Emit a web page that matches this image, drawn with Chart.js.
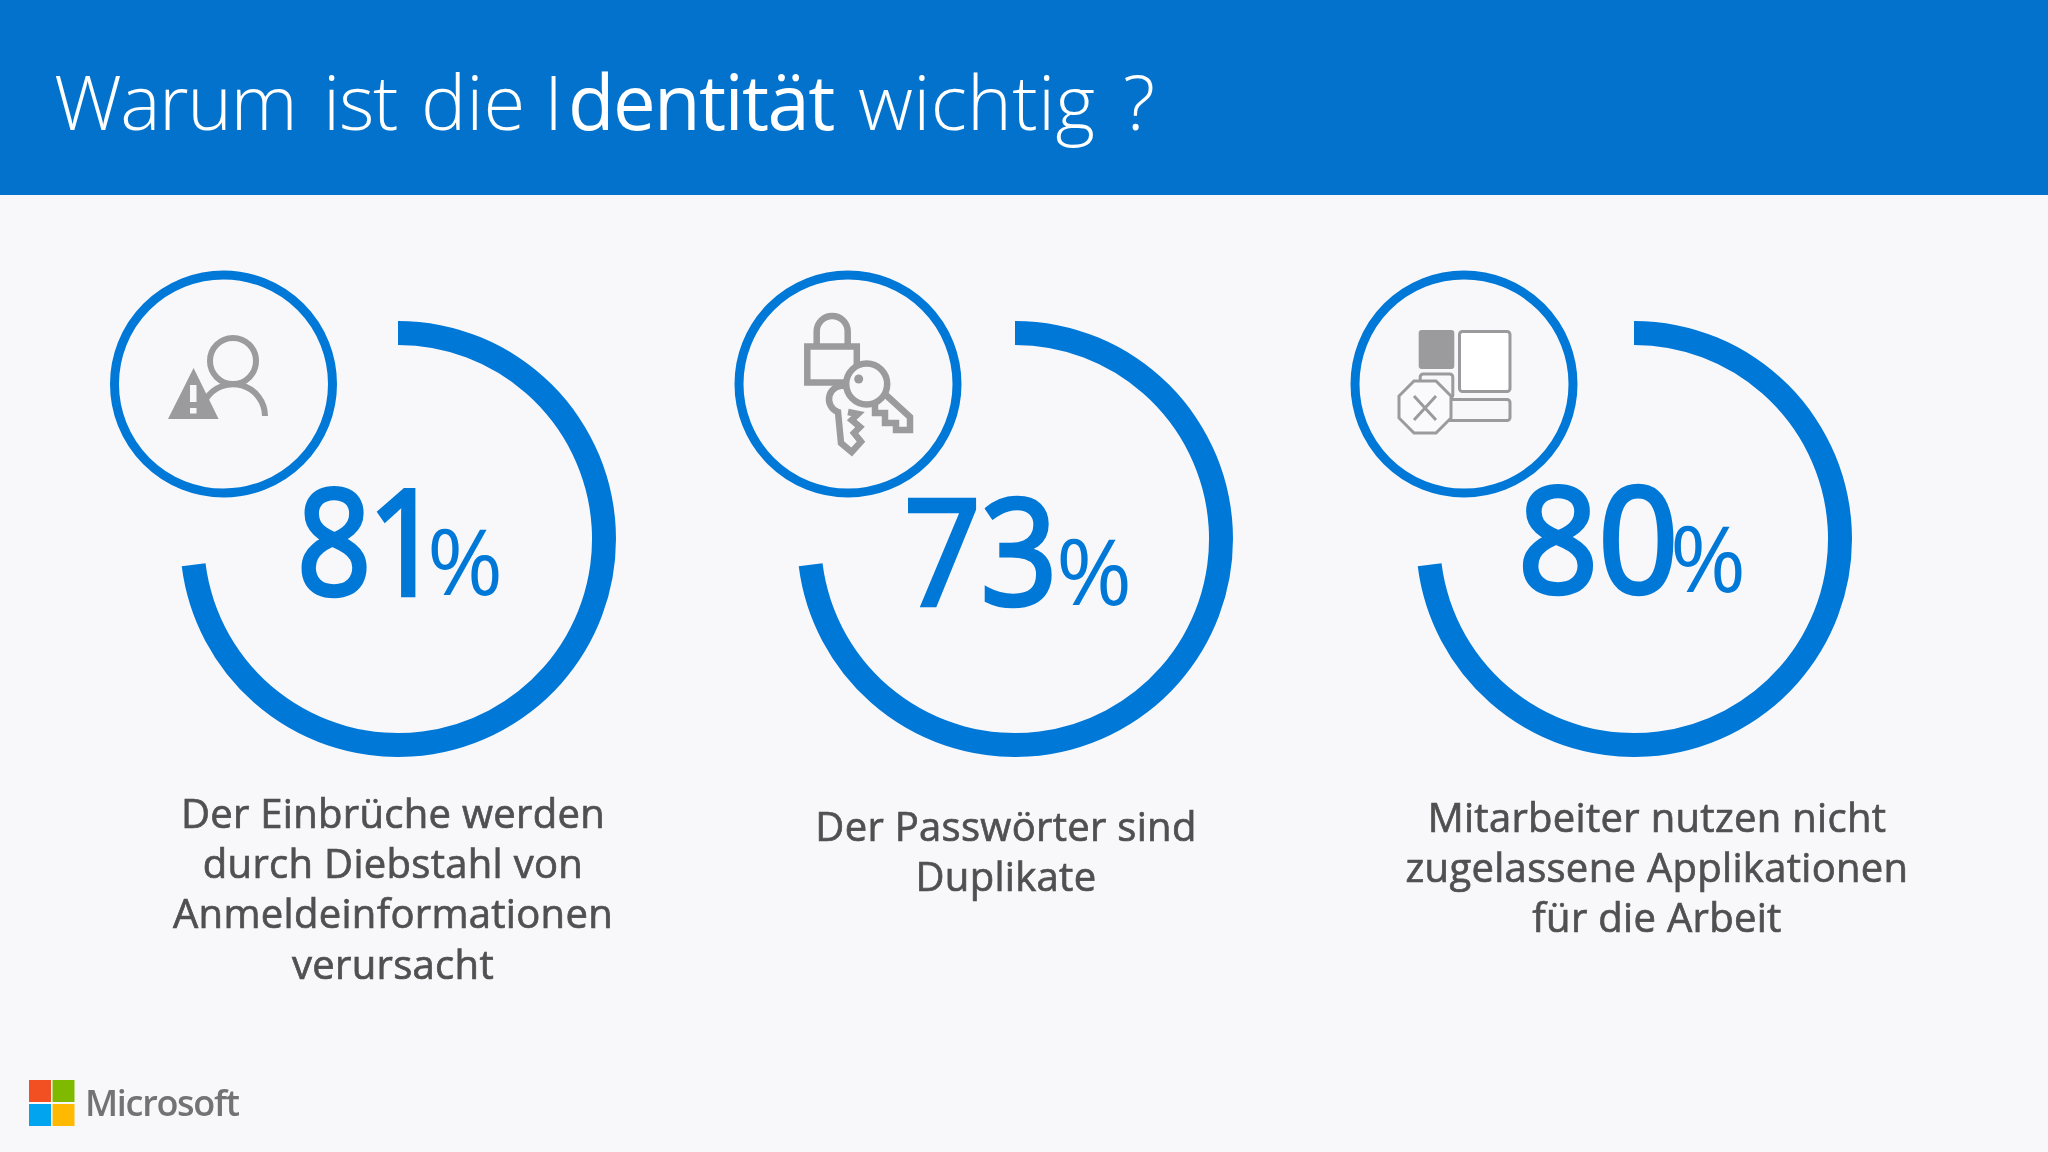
<!DOCTYPE html>
<html lang="de">
<head>
<meta charset="utf-8">
<title>Warum ist die Identität wichtig ?</title>
<script src="https://cdn.jsdelivr.net/npm/chart.js@4"></script>
<style>
html,body{margin:0;padding:0;background:#F8F8FB;width:2048px;height:1152px;overflow:hidden}
#header{position:absolute;left:0;top:0;width:2048px;height:195px;background:#0272CC}
.dial{position:absolute;width:436px;height:436px}
#overlay{position:absolute;left:0;top:0;width:2048px;height:1152px}
text{font-family:"Open Sans","Noto Sans",sans-serif}
.big{fill:#0078D7;stroke:#0078D7;stroke-width:4.5;font-size:146px;font-weight:500}
.pct{fill:#0078D7;font-size:92px;font-weight:400}
.cap{fill:#505050;stroke:#505050;stroke-width:0.7;font-size:40px;font-weight:500;text-anchor:middle;letter-spacing:0.3px}
.ico{fill:none;stroke:#9B9A9D;stroke-width:6}
.ring{fill:none;stroke:#0078D7;stroke-width:9}
</style>
</head>
<body>
<div id="header"></div>
<canvas class="dial" id="d0" style="left:180px;top:321px"></canvas>
<canvas class="dial" id="d1" style="left:797px;top:321px"></canvas>
<canvas class="dial" id="d2" style="left:1416px;top:321px"></canvas>

<svg id="overlay" viewBox="0 0 2048 1152" xmlns="http://www.w3.org/2000/svg">
  <text y="130" font-size="76" font-weight="300" fill="#fff"><tspan x="54" letter-spacing="-1.5">Warum</tspan><tspan x="323" letter-spacing="-1.3">ist</tspan><tspan x="421" letter-spacing="0">die</tspan><tspan x="544">I</tspan><tspan x="568" font-weight="500" letter-spacing="-1.6">dentität</tspan><tspan x="858" letter-spacing="0.3">wichtig</tspan><tspan x="1123">?</tspan></text>

  <circle class="ring" cx="223.5" cy="384" r="109"/>
  <circle class="ring" cx="848" cy="384" r="109"/>
  <circle class="ring" cx="1464" cy="384" r="109"/>

  <!-- icon 1 -->
  <circle class="ico" cx="233" cy="361" r="23"/>
  <path class="ico" d="M265 416 A32 32 0 0 0 206 399"/>
  <path fill="#9B9A9D" d="M193.6 368 L218.6 419 L168 419 Z"/>
  <rect x="190" y="385" width="6.5" height="17" fill="#F8F8FB"/>
  <rect x="190" y="408" width="6.5" height="5.5" fill="#F8F8FB"/>

  <!-- icon 2 -->
  <path class="ico" style="stroke-width:6.5" d="M816.7 344 V331.5 A15.5 15.5 0 0 1 847.7 331.5 V344"/>
  <rect class="ico" style="stroke-width:6.5" x="807.3" y="346.5" width="49.5" height="36"/>
  <path class="ico" style="stroke-width:6.5" d="M845 386 A13.5 13.5 0 0 0 838 412 L841 443 L851.7 452 L861 441.7 L854 433 L860 427 L851.7 420 L858 414 L848 412"/>
  <path class="ico" style="fill:#F8F8FB;stroke-width:6.5" d="M886 395 L910 417 V430 H896 V423 H885 V413 H875 V403"/>
  <circle class="ico" style="fill:#F8F8FB;stroke-width:6.5" cx="866.7" cy="384" r="20.5"/>
  <circle cx="858.7" cy="379" r="4.5" fill="#9B9A9D"/>

  <!-- icon 3 -->
  <rect x="1418.7" y="330" width="35.6" height="39" rx="3" fill="#9B9A9D"/>
  <rect x="1459.5" y="331.5" width="50.5" height="60" rx="3" fill="#FFFFFF" stroke="#9B9A9D" stroke-width="3"/>
  <rect x="1420.2" y="374" width="32.6" height="24" rx="3" fill="#F8F8FB" stroke="#9B9A9D" stroke-width="3"/>
  <rect x="1440" y="399.5" width="70" height="21" rx="3" fill="#F8F8FB" stroke="#9B9A9D" stroke-width="3"/>
  <path fill="#FAFAFC" stroke="#9B9A9D" stroke-width="3" d="M1414 381 H1436 L1451 396 V418 L1436 433 H1414 L1399 418 V396 Z"/>
  <path fill="none" stroke="#9B9A9D" stroke-width="3" d="M1414 396 L1436 420 M1436 396 L1414 420"/>

  <!-- logo -->
  <rect x="29" y="1080" width="22" height="22" fill="#F25022"/>
  <rect x="52.5" y="1080" width="22" height="22" fill="#7FBA00"/>
  <rect x="29" y="1104" width="22" height="22" fill="#00A4EF"/>
  <rect x="52.5" y="1104" width="22" height="22" fill="#FFB900"/>
  <text x="85" y="1116" font-size="36" font-weight="600" fill="#737373" letter-spacing="-1.3">Microsoft</text>
  <g id="labels"></g>
</svg>

<script>
// Percentages printed on the slide
const percentLabels = [81, 73, 80];
// Share of each ring actually drawn on the slide (all three rings stop at the same angle)
const arcFilled = [73, 73, 73];
const arcEmpty = [27, 27, 27];
const segmentNames = ['Anteil', 'Rest'];
// Captions, line by line
const captions = [
  ['Der Einbrüche werden', 'durch Diebstahl von', 'Anmeldeinformationen', 'verursacht'],
  ['Der Passwörter sind', 'Duplikate'],
  ['Mitarbeiter nutzen nicht', 'zugelassene Applikationen', 'für die Arbeit']
];
const ringColor = '#0078D7';

percentLabels.forEach((_, i) => {
  new Chart(document.getElementById('d' + i), {
    type: 'doughnut',
    data: {
      labels: segmentNames,
      datasets: [{
        data: [arcFilled[i], arcEmpty[i]],
        backgroundColor: [ringColor, 'rgba(0,0,0,0)'],
        borderWidth: 0
      }]
    },
    options: {
      responsive: false,
      animation: false,
      cutout: '89%',
      rotation: 0,
      plugins: { legend: { display: false }, tooltip: { enabled: false } }
    }
  });
});

const NS = 'http://www.w3.org/2000/svg';
const labels = document.getElementById('labels');
function addText(cls, x, y, str, spacing, scaleX) {
  const t = document.createElementNS(NS, 'text');
  t.setAttribute('class', cls);
  if (scaleX) {
    t.setAttribute('transform', `translate(${x} ${y}) scale(${scaleX} 1)`);
  } else {
    t.setAttribute('x', x);
    t.setAttribute('y', y);
  }
  if (spacing) t.setAttribute('letter-spacing', spacing);
  t.textContent = str;
  labels.appendChild(t);
}
const numberLayout = [
  [297, 595, -4, 0.89, 427, 595],
  [904, 605, 0, 0.92, 1056, 605],
  [1518, 593, 0, 0.96, 1670, 592]
];
percentLabels.forEach((v, i) => {
  const p = numberLayout[i];
  addText('big', p[0], p[1], String(v), p[2], p[3]);
  addText('pct', p[4], p[5], '%');
});
const captionLayout = [[393, 828], [1006, 841], [1657, 832]];
captions.forEach((lines, i) => {
  lines.forEach((line, j) => addText('cap', captionLayout[i][0], captionLayout[i][1] + j * 50.2, line));
});
</script>
</body>
</html>
